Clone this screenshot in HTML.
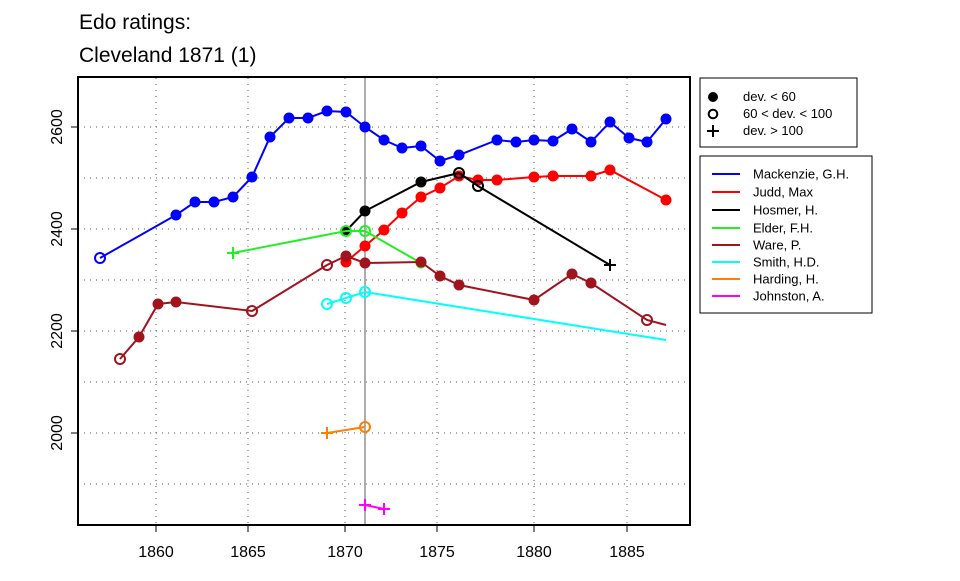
<!DOCTYPE html>
<html><head><meta charset="utf-8"><style>
html,body{margin:0;padding:0;background:#fff;}
svg text{font-family:"Liberation Sans",Arial,sans-serif;}
</style></head><body>
<svg id="s" width="960" height="576" xmlns="http://www.w3.org/2000/svg">
<rect width="960" height="576" fill="#fff"/>
<text x="79" y="29" font-size="21">Edo ratings:</text>
<text x="79" y="62" font-size="21">Cleveland 1871 (1)</text>
<g stroke="#777" stroke-width="1.2" stroke-dasharray="1,5">
<line x1="156" y1="78" x2="156" y2="525"/><line x1="248" y1="78" x2="248" y2="525"/>
<line x1="345" y1="78" x2="345" y2="525"/><line x1="437" y1="78" x2="437" y2="525"/>
<line x1="534" y1="78" x2="534" y2="525"/><line x1="627" y1="78" x2="627" y2="525"/>
<line x1="78" y1="127" x2="690" y2="127"/><line x1="78" y1="178" x2="690" y2="178"/>
<line x1="78" y1="229" x2="690" y2="229"/><line x1="78" y1="280" x2="690" y2="280"/>
<line x1="78" y1="331" x2="690" y2="331"/><line x1="78" y1="382" x2="690" y2="382"/>
<line x1="78" y1="433" x2="690" y2="433"/><line x1="78" y1="484" x2="690" y2="484"/>
</g>
<line x1="365" y1="78" x2="365" y2="525" stroke="#777" stroke-width="1.2"/>
<g id="series"></g>
<rect x="78" y="77" width="612" height="448" fill="none" stroke="#000" stroke-width="2"/>
<g stroke="#000" stroke-width="1">
<line x1="156" y1="525" x2="156" y2="532"/><line x1="248" y1="525" x2="248" y2="532"/>
<line x1="345" y1="525" x2="345" y2="532"/><line x1="437" y1="525" x2="437" y2="532"/>
<line x1="534" y1="525" x2="534" y2="532"/><line x1="627" y1="525" x2="627" y2="532"/>
<line x1="71" y1="127" x2="78" y2="127"/><line x1="71" y1="229" x2="78" y2="229"/>
<line x1="71" y1="331" x2="78" y2="331"/><line x1="71" y1="433" x2="78" y2="433"/>
</g>
<g font-size="16" text-anchor="middle">
<text x="156" y="557">1860</text><text x="248" y="557">1865</text><text x="345" y="557">1870</text>
<text x="437" y="557">1875</text><text x="534" y="557">1880</text><text x="627" y="557">1885</text>
<text transform="translate(62,127) rotate(-90)">2600</text>
<text transform="translate(62,229) rotate(-90)">2400</text>
<text transform="translate(62,331) rotate(-90)">2200</text>
<text transform="translate(62,433) rotate(-90)">2000</text>
</g>
<rect x="700" y="78" width="157" height="69" fill="#fff" stroke="#000" stroke-width="1"/>
<circle cx="713" cy="97" r="5" fill="#000"/>
<circle cx="713" cy="114" r="4.3" fill="none" stroke="#000" stroke-width="2"/>
<path d="M707 131h12M713 125v12" stroke="#000" stroke-width="2"/>
<g font-size="13"><text x="743" y="101">dev. &lt; 60</text><text x="743" y="118">60 &lt; dev. &lt; 100</text><text x="743" y="135">dev. &gt; 100</text></g>
<rect x="700" y="156" width="172" height="157" fill="#fff" stroke="#000" stroke-width="1"/>
<g id="leg" font-size="13"></g>
</svg>
<script>
var S=document.getElementById('series'),L=document.getElementById('leg'),NS='http://www.w3.org/2000/svg';
function el(p,t,a){var e=document.createElementNS(NS,t);for(var k in a)e.setAttribute(k,a[k]);p.appendChild(e);return e;}
var data=[
["#0000ff","Mackenzie, G.H.",[[100,258,'o'],[176,215,'f'],[195,202,'f'],[214,202,'f'],[233,197,'f'],[252,177,'f'],[270,137,'f'],[289,118,'f'],[308,118,'f'],[327,111,'f'],[346,112,'f'],[365,127,'f'],[384,140,'f'],[402,148,'f'],[421,146,'f'],[440,161,'f'],[459,155,'f'],[497,140,'f'],[516,142,'f'],[534,140,'f'],[553,141,'f'],[572,129,'f'],[591,142,'f'],[610,122,'f'],[629,138,'f'],[647,142,'f'],[666,119,'f']]],
["#ff0000","Judd, Max",[[346,262,'f'],[365,246,'f'],[384,230,'f'],[402,213,'f'],[421,197,'f'],[440,188,'f'],[459,176,'f'],[478,180,'f'],[497,180,'f'],[534,177,'f'],[553,176,'f'],[591,176,'f'],[610,170,'f'],[666,200,'f']]],
["#000000","Hosmer, H.",[[346,231,'f'],[365,211,'f'],[421,182,'f'],[459,173,'o'],[478,186,'o'],[610,265,'p']]],
["#22ee22","Elder, F.H.",[[233,253,'p'],[346,231,'o'],[365,231,'o'],[421,263,'f']]],
["#a0141e","Ware, P.",[[120,359,'o'],[139,337,'f'],[158,304,'f'],[176,302,'f'],[252,311,'o'],[327,265,'o'],[346,256,'f'],[365,263,'f'],[421,262,'f'],[440,276,'f'],[459,285,'f'],[534,300,'f'],[572,274,'f'],[591,283,'f'],[647,320,'o'],[666,325,'n']]],
["#00ffff","Smith, H.D.",[[327,304,'o'],[346,298,'o'],[365,292,'o'],[666,340,'n']]],
["#ff7f00","Harding, H.",[[327,433,'p'],[365,427,'o']]],
["#ff00ff","Johnston, A.",[[365,505,'p'],[384,509,'p']]]
];
var ly=[174,192,210,228,245,262,279,296];
data.forEach(function(d,i){
 var c=d[0],pts=d[2];
 el(S,'polyline',{points:pts.map(function(p){return p[0]+','+p[1]}).join(' '),fill:'none',stroke:c,'stroke-width':2});
 pts.forEach(function(p){
  if(p[2]=='f')el(S,'circle',{cx:p[0],cy:p[1],r:5.5,fill:c});
  else if(p[2]=='o')el(S,'circle',{cx:p[0],cy:p[1],r:5,fill:'none',stroke:c,'stroke-width':2});
  else if(p[2]=='p')el(S,'path',{d:'M'+(p[0]-6)+' '+p[1]+'h12M'+p[0]+' '+(p[1]-6)+'v12',stroke:c,'stroke-width':2});
 });
 el(L,'line',{x1:712,x2:740,y1:ly[i],y2:ly[i],stroke:c,'stroke-width':2});
 var t=el(L,'text',{x:753,y:ly[i]+4.5});t.textContent=d[1];
});
</script>
</body></html>
